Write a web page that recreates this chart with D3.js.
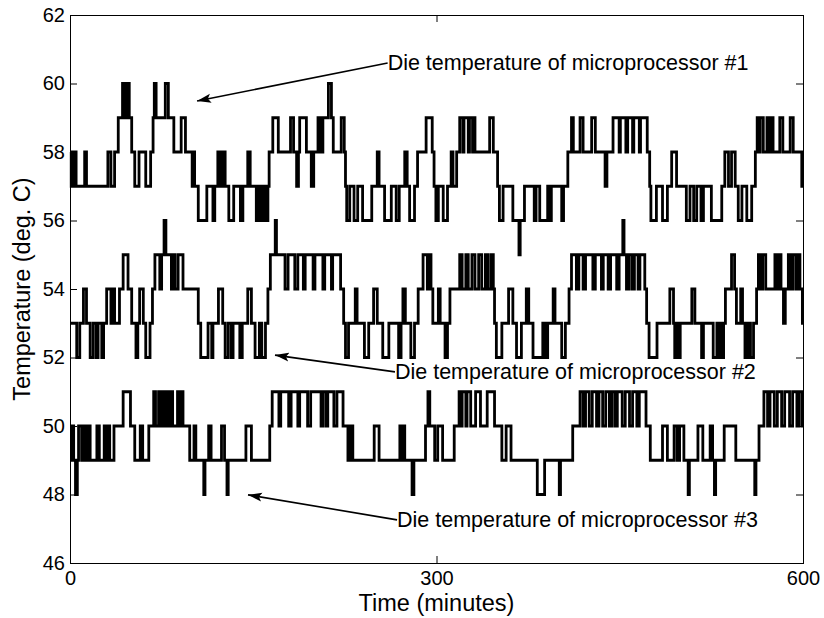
<!DOCTYPE html>
<html><head><meta charset="utf-8">
<script src="https://cdn.jsdelivr.net/npm/d3@7"></script>
<style>body{margin:0;background:#fff}svg{display:block}</style>
</head><body><svg id="c" width="824" height="618"></svg>
<script>
const xTicks=[0,300,600];
const yTicks=[46,48,50,52,54,56,58,60,62];
const xLabel="Time (minutes)";
const yLabel="Temperature (deg. C)";
// change points [minute, deg C]
const die1=[[0,58],[1,57],[2,58],[3,57],[4,58],[5,57],[12,58],[13.5,57],[31,58],[33.5,57],[36.5,58],[39.5,59],[43,60],[44,59],[45,60],[46,59],[47,60],[48.5,59],[50.5,58],[53,57],[56.5,58],[62,57],[66,58],[68,59],[69,60],[70.5,59],[78,60],[80.5,59],[85,58],[91,59],[94.5,58],[100,57],[101,58],[102,57],[105,56],[112,57],[117,56],[118.5,57],[121,58],[122,57],[123,58],[124,57],[125,58],[127,57],[130,56],[134,57],[139.5,56],[141.5,57],[145.5,58],[147.5,57],[152.5,56],[154,57],[155,56],[156,57],[157,56],[158,57],[159,56],[160,57],[161,56],[162,57],[163,58],[166,59],[170.5,58],[180.5,59],[183,58],[185.5,57],[187,58],[188,59],[193.5,58],[197.5,57],[199.5,58],[203,59],[205,58],[207,59],[211.5,60],[214,59],[215.5,58],[222,59],[224.5,58],[225.5,57],[226.5,56],[229,57],[232.5,56],[235.5,57],[239.5,56],[247,57],[251.5,58],[253,57],[257.5,56],[263,57],[267,56],[269.5,57],[274,58],[276,57],[278,56],[282,57],[284.5,58],[291.5,59],[296.5,58],[298,57],[299.5,56],[301.5,57],[305.5,56],[309,57],[312,58],[313.5,57],[316.5,58],[319,59],[321.5,58],[322.5,59],[326,58],[327,59],[329.5,58],[330,59],[331.5,58],[343.5,59],[346.5,58],[350,57],[351.5,56],[354.5,57],[362.5,56],[367.5,55],[368.5,56],[372,57],[380,56],[381.5,57],[384.5,56],[391,57],[392.5,56],[394,57],[402.5,56],[404,57],[407.5,58],[410.5,59],[412,58],[417.5,59],[420,58],[427,59],[430,58],[438,57],[439.5,58],[444.5,59],[449.5,58],[450.5,59],[455,58],[456.5,59],[460.5,58],[461.5,59],[466,58],[467,59],[472.5,58],[474.5,57],[475.5,56],[480,57],[485,56],[489,57],[492.5,58],[496.5,57],[504.5,56],[507.5,57],[510.5,56],[513,57],[516.5,56],[518.5,57],[525,56],[533.5,57],[536,58],[539,57],[541.5,58],[544.5,57],[547,56],[550,57],[554,56],[558,57],[561,58],[562.5,59],[564,58],[565,59],[567.5,58],[570.5,59],[572,58],[573.5,59],[575.5,58],[581,59],[583.5,58],[589.5,59],[592,58],[599,57],[600,57]];
const die2=[[0,53],[5.5,52],[8,53],[11,54],[13.5,53],[16.5,52],[19,53],[21.5,52],[23,53],[26,52],[27.5,53],[30,54],[33.5,53],[35,54],[36.5,53],[40.5,54],[43.5,55],[47.5,54],[50.5,53],[54,52],[55.5,53],[57,54],[60,53],[62,52],[65.5,53],[67.5,54],[69.5,55],[73.5,54],[75,55],[77,56],[78.5,55],[83,54],[84,55],[86,54],[88.5,55],[92.5,54],[105,53],[107,52],[113,53],[116,52],[117,53],[121.5,54],[125,53],[127,52],[129.5,53],[132,52],[133.5,53],[139,52],[141,53],[145.5,54],[148.5,53],[151.5,52],[155,53],[157,52],[160,53],[162,54],[164,55],[168,56],[169,55],[176,54],[178.5,55],[184,54],[186.5,55],[191,54],[192.5,55],[199,54],[200.5,55],[207,54],[208.5,55],[214,54],[215,55],[221.5,54],[224,53],[225.5,52],[228,53],[233.5,54],[235,53],[241,52],[244.5,53],[248.5,54],[251.5,53],[256,52],[261,53],[269,52],[271,53],[272.5,54],[274.5,53],[279,52],[282,53],[285,54],[289,55],[292.5,54],[294,55],[295.5,54],[297,53],[301.5,54],[303,53],[307,52],[309,53],[311,54],[319,55],[321,54],[324,55],[326,54],[329,55],[331.5,54],[334.5,55],[337,54],[340,55],[342,54],[344.5,55],[346.5,54],[347.5,53],[349,52],[353.5,53],[359,54],[362.5,53],[365.5,52],[369.5,53],[373.5,54],[375.5,53],[379,52],[387,53],[389,52],[391,53],[395.5,54],[397,53],[402.5,52],[405.5,53],[408.5,54],[410.5,55],[414.5,54],[416.5,55],[420,54],[422,55],[428,54],[430,55],[435,54],[436.5,55],[440.5,54],[442.5,55],[447.5,54],[449.5,55],[452.5,56],[453.5,55],[455.5,54],[457.5,55],[460,54],[462,55],[465,54],[466.5,55],[470.5,54],[472,53],[474,52],[480.5,53],[491,54],[494,53],[495,52],[496.5,53],[498,52],[499.5,53],[509,54],[511.5,53],[517,52],[518.5,53],[526.5,52],[529.5,53],[531,52],[532,53],[533.5,52],[535,53],[536.5,54],[541.5,55],[544,54],[545.5,53],[549,54],[550.5,53],[552.5,52],[553.5,53],[554.5,52],[556,53],[557,52],[559.5,53],[562,54],[563.5,55],[565.5,54],[567,55],[569.5,54],[577,55],[579,54],[580.5,55],[582,54],[584,53],[585.5,54],[588,55],[590,54],[591.5,55],[594,54],[595.5,55],[597.5,54],[599.5,53],[600,53]];
const die3=[[0,49],[1.5,50],[3,49],[4.5,48],[6,49],[7,50],[9.5,49],[11,50],[13,49],[15,50],[16.5,49],[22,50],[24,49],[28,50],[29.5,49],[31,50],[32.5,49],[36,50],[43.5,51],[49.5,50],[53,49],[57.5,50],[59.5,49],[64.5,50],[68.5,51],[70,50],[72.5,51],[74,50],[75.5,51],[77,50],[79,51],[81,50],[82.5,51],[84,50],[88,51],[90,50],[91,51],[92.5,50],[98,49],[101.5,50],[103,49],[109.5,48],[110.5,49],[113.5,50],[115.5,49],[124,50],[126.5,49],[128.5,48],[129.5,49],[144,50],[148.5,49],[163.5,50],[165.5,51],[171,50],[172.5,51],[179,50],[181,51],[186.5,50],[188,51],[194.5,50],[197,51],[205.5,50],[207,51],[209.5,50],[211,51],[216,50],[218.5,51],[223.5,50],[227.5,49],[229.5,50],[231.5,49],[249,50],[253,49],[270,50],[271,49],[272,50],[274,49],[280,48],[281.5,49],[291,50],[293,51],[294.5,50],[298.5,49],[301,50],[305,49],[314.5,50],[318.5,51],[320,50],[321,51],[324,50],[325,51],[328,50],[332,51],[336,50],[341.5,51],[347.5,50],[353.5,49],[357,50],[361,49],[382.5,48],[388.5,49],[400.5,48],[401.5,49],[411.5,50],[417.5,51],[420,50],[422,51],[425,50],[427.5,51],[431,50],[433,51],[436,50],[438.5,51],[441.5,50],[443.5,51],[446,50],[448,51],[452,50],[454.5,51],[458,50],[460.5,51],[464,50],[466,51],[471.5,50],[475,49],[485,50],[489,49],[494.5,50],[497,49],[499,50],[502.5,49],[506,48],[507,49],[514,50],[518,49],[524,50],[526,49],[527.5,48],[528.5,49],[535.5,50],[545,49],[560.5,48],[561.5,49],[564,50],[568,51],[571,50],[573,51],[576.5,50],[579,51],[582.5,50],[585,51],[589,50],[591.5,51],[595,50],[597,51],[599.5,50],[600,50]];
const series=[die1,die2,die3];
const noteText=["Die temperature of microprocessor #1","Die temperature of microprocessor #2","Die temperature of microprocessor #3"];
const noteAt=[[260,60.6],[266,51.58],[267.7,47.26]];
const noteTip=[[104,59.49],[167.8,52.07],[145.7,47.99]];

const L=70,R=803,T=15,B=563;
const svg=d3.select("#c");
const x=d3.scaleLinear().domain([0,600]).range([L,R]);
const y=d3.scaleLinear().domain([46,62]).range([B,T]);
const font="'Liberation Sans', Arial, Helvetica, sans-serif";

svg.append("defs").append("marker").attr("id","ah").attr("viewBox","0 -5 14 10")
  .attr("refX",14).attr("refY",0).attr("markerWidth",14).attr("markerHeight",10)
  .attr("markerUnits","userSpaceOnUse").attr("orient","auto")
  .append("path").attr("d","M0,-4.5L14,0L0,4.5L3,0Z").attr("fill","#000");

const line=d3.line().x(d=>x(d[0])).y(d=>y(d[1])).curve(d3.curveStepAfter);
svg.append("g").selectAll("path").data(series).join("path")
  .attr("d",line).attr("fill","none").attr("stroke","#000")
  .attr("stroke-width",2.8).attr("stroke-linejoin","miter");

function styleAxis(g,labels){
  g.select(".domain").remove();
  g.selectAll(".tick line").attr("stroke","#000");
  g.selectAll(".tick text").attr("fill","#000").style("font-family",font).style("font-size","20px");
  if(!labels) g.selectAll(".tick text").remove();
}
svg.append("g").attr("transform",`translate(0,${B})`)
  .call(d3.axisBottom(x).tickValues(xTicks).tickSizeInner(-7).tickSizeOuter(0).tickPadding(8).tickFormat(d3.format("d")))
  .call(g=>styleAxis(g,true));
svg.append("g").attr("transform",`translate(0,${T})`)
  .call(d3.axisTop(x).tickValues(xTicks).tickSizeInner(-7).tickSizeOuter(0))
  .call(g=>styleAxis(g,false));
svg.append("g").attr("transform",`translate(${L},0)`)
  .call(d3.axisLeft(y).tickValues(yTicks).tickSizeInner(-7).tickSizeOuter(0).tickPadding(5).tickFormat(d3.format("d")))
  .call(g=>styleAxis(g,true));
svg.append("g").attr("transform",`translate(${R},0)`)
  .call(d3.axisRight(y).tickValues(yTicks).tickSizeInner(-7).tickSizeOuter(0))
  .call(g=>styleAxis(g,false));
svg.append("rect").attr("x",L+0.5).attr("y",T+0.5).attr("width",R-L).attr("height",B-T)
  .attr("fill","none").attr("stroke","#000").attr("stroke-width",1);

svg.append("text").attr("x",(L+R)/2).attr("y",611).attr("text-anchor","middle")
  .style("font-family",font).style("font-size","23.5px").text(xLabel);
svg.append("text").attr("transform",`translate(30,${(T+B)/2}) rotate(-90)`).attr("text-anchor","middle")
  .style("font-family",font).style("font-size","23.5px").text(yLabel);

const notes=svg.append("g");
noteText.forEach((t,i)=>{
  const tx=x(noteAt[i][0]), ty=y(noteAt[i][1]);
  notes.append("line").attr("x1",tx).attr("y1",ty).attr("x2",x(noteTip[i][0])).attr("y2",y(noteTip[i][1]))
    .attr("stroke","#000").attr("stroke-width",1.6).attr("marker-end","url(#ah)");
  notes.append("text").attr("x",tx).attr("y",ty).attr("dy","0.35em")
    .style("font-family",font).style("font-size","21.5px").text(t);
});
</script></body></html>
